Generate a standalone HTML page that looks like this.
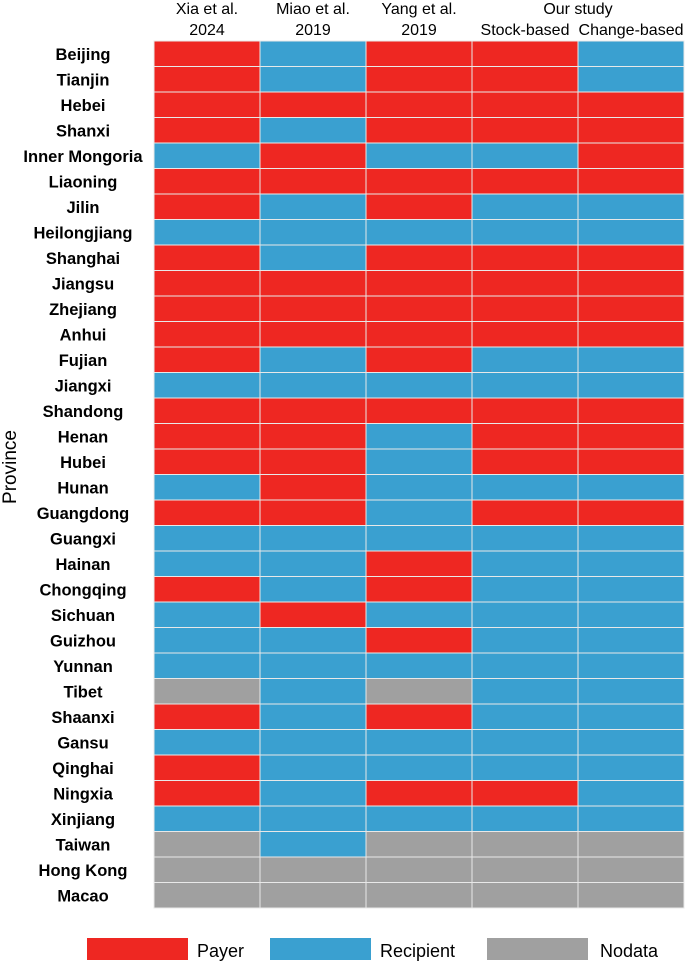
<!DOCTYPE html>
<html><head><meta charset="utf-8"><style>
body{margin:0;background:#fff;width:685px;height:961px;overflow:hidden;font-family:"Liberation Sans",Arial,sans-serif}
</style></head><body>
<svg id="chart" width="685" height="961" xmlns="http://www.w3.org/2000/svg" font-family="Liberation Sans, Arial, sans-serif"></svg>
<script>
const provinces=["Beijing","Tianjin","Hebei","Shanxi","Inner Mongoria","Liaoning","Jilin","Heilongjiang","Shanghai","Jiangsu","Zhejiang","Anhui","Fujian","Jiangxi","Shandong","Henan","Hubei","Hunan","Guangdong","Guangxi","Hainan","Chongqing","Sichuan","Guizhou","Yunnan","Tibet","Shaanxi","Gansu","Qinghai","Ningxia","Xinjiang","Taiwan","Hong Kong","Macao"];
const studies=["Xia et al.|2024","Miao et al.|2019","Yang et al.|2019","Our study|Stock-based","|Change-based"];
const xia  =["P","P","P","P","R","P","P","R","P","P","P","P","P","R","P","P","P","R","P","R","R","P","R","R","R","N","P","R","P","P","R","N","N","N"];
const miao =["R","R","P","R","P","P","R","R","R","P","P","P","R","R","P","P","P","P","P","R","R","R","P","R","R","R","R","R","R","R","R","R","N","N"];
const yang =["P","P","P","P","R","P","P","R","P","P","P","P","P","R","P","R","R","R","R","R","P","P","R","P","R","N","P","R","R","P","R","N","N","N"];
const stock=["P","P","P","P","R","P","R","R","P","P","P","P","R","R","P","P","P","R","P","R","R","R","R","R","R","R","R","R","R","P","R","N","N","N"];
const change=["R","R","P","P","P","P","R","R","P","P","P","P","R","R","P","P","P","R","P","R","R","R","R","R","R","R","R","R","R","R","R","N","N","N"];
const series=[xia,miao,yang,stock,change];
const colors={P:"#ee2722",R:"#3aa0d0",N:"#a0a0a0"};
const svg=document.getElementById('chart');
const NS="http://www.w3.org/2000/svg";
const x0=154,x1=684,y0=41,y1=908;
const cw=(x1-x0)/studies.length, rh=(y1-y0)/provinces.length;
const xs=i=>x0+i*cw, ys=j=>y0+j*rh;
function mk(t,a,txt){const e=document.createElementNS(NS,t);for(const k in a)e.setAttribute(k,a[k]);if(txt!==undefined)e.textContent=txt;svg.appendChild(e);return e;}
series.forEach((s,i)=>s.forEach((v,j)=>{
 const r=mk('rect',{x:xs(i),y:ys(j),width:cw,height:rh,fill:colors[v],stroke:"#e8e8e8","stroke-width":1});
 
 
}));
provinces.forEach((p,j)=>{
 const t=mk('text',{x:83,y:ys(j)+rh/2+6,"text-anchor":"middle","font-size":16.5,"font-weight":"bold",fill:"#000"},p);
 
 
});
studies.forEach((s,i)=>{
 const [a,b]=s.split('|');
 const cx=xs(i)+cw/2;
 if(a){const t=mk('text',{x:i==3?xs(4):cx,y:14,"text-anchor":"middle","font-size":16,fill:"#000"},a);
 
 }
 const t2=mk('text',{x:cx,y:35,"text-anchor":"middle","font-size":16,fill:"#000"},b);
 
 
});
const yt=mk('text',{x:16,y:467,"text-anchor":"middle","font-size":19,fill:"#000",transform:"rotate(-90 16 467)"},"Province");


const legend=[["Payer","P",87,197],["Recipient","R",270,380],["Nodata","N",487,600]];
legend.forEach(([lbl,k,rx,tx])=>{
 const r=mk('rect',{x:rx,y:938,width:101,height:22,fill:colors[k]});
 
 
 const t=mk('text',{x:tx,y:957,"font-size":18,fill:"#000"},lbl);
 
 
});
</script>
</body></html>
